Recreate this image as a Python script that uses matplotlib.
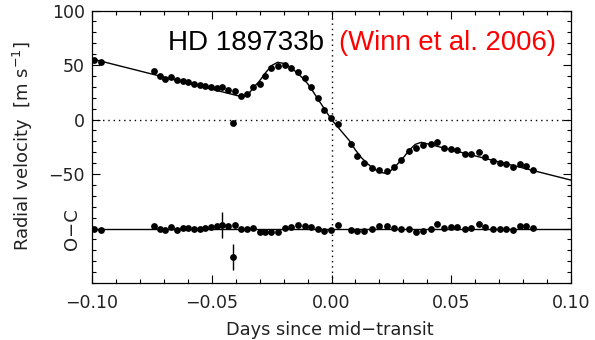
import matplotlib
matplotlib.use("Agg")
import matplotlib.pyplot as plt
import numpy as np
from matplotlib.ticker import MultipleLocator

# radial velocities of HD 189733 around transit (days from mid-transit, m/s)
t_obs = [-0.0992, -0.0961, -0.0741, -0.0717, -0.0694, -0.0669, -0.0646, -0.0621,
         -0.0599, -0.0574, -0.0549, -0.0527, -0.0502, -0.0478, -0.0457, -0.0432,
         -0.0404, -0.0377, -0.0353, -0.0328, -0.0300, -0.0276, -0.0251, -0.0223,
         -0.0195, -0.0168, -0.0140, -0.0112, -0.0087, -0.0056, -0.0031, -0.0001,
         0.0027, 0.0080, 0.0108, 0.0136, 0.0169, 0.0197, 0.0233, 0.0261,
         0.0292, 0.0322, 0.0354, 0.0382, 0.0414, 0.0442, 0.0470, 0.0498,
         0.0525, 0.0556, 0.0584, 0.0615, 0.0642, 0.0674, 0.0702, 0.0730,
         0.0758, 0.0786, 0.0813, 0.0841]
rv_obs = [54.7, 52.5, 44.6, 40.0, 37.5, 39.4, 36.0, 35.7,
          34.8, 32.9, 31.7, 30.8, 29.9, 29.3, 30.0, 27.1,
          26.2, 21.9, 23.1, 29.6, 32.6, 40.0, 47.5, 49.5,
          50.4, 47.6, 43.7, 37.8, 30.2, 19.5, 8.7, 1.1,
          -4.1, -22.8, -33.5, -40.3, -44.3, -46.4, -47.0, -43.4,
          -37.2, -29.0, -25.9, -23.4, -22.8, -21.0, -25.9, -27.4,
          -28.0, -31.7, -31.7, -30.2, -34.7, -37.8, -39.7, -41.2,
          -43.9, -41.2, -42.5, -46.4]
resid = [-0.6, -1.5, 2.5, 0.0, -1.5, 1.2, -1.0, 0.3, 0.6, -0.6, 0.0, 0.6, 1.2, 2.0, 3.5, 2.5, 3.0,
         0.0, 0.0, 0.3, -3.0, -3.0, -3.0, -3.5, 0.6, 1.2, 3.0, 2.5, 1.8, -0.6, -2.5, -1.5,
         3.0, -1.5, -2.5, -2.5, 0.0, 2.0, 2.5, 0.6, 0.0, -0.6, -3.5, -2.5, 0.0, 4.3, 0.6, 1.2,
         1.5, -0.6, 0.6, 4.3, 1.2, 0.0, -0.6, -0.6, -1.2, 2.5, 2.5, 0.6]

# the one discrepant point
t_out = -0.0411
rv_out = -3.5
resid_out = -26.0

# residuals that carry error bars
t_err = [-0.0457, -0.0411]
resid_err = [3.5, -26.0]
err = [12.0, 12.0]

# best-fit model (orbit + Rossiter-McLaughlin anomaly)
t_model = [-0.100, -0.0375, -0.035, -0.0325, -0.030, -0.0275, -0.025, -0.0225,
           -0.020, -0.0175, -0.015, -0.0125, -0.010, -0.0075, -0.005, -0.0025,
           0.0, 0.0025, 0.005, 0.0075, 0.010, 0.0125, 0.015, 0.0175,
           0.020, 0.0225, 0.025, 0.0275, 0.030, 0.0325, 0.035, 0.0375, 0.100]
rv_model = [55.6, 20.9, 22.5, 29.5, 35.5, 43.0, 49.5, 52.5,
            51.5, 48.5, 44.0, 39.0, 33.0, 25.0, 16.5, 8.2,
            0.0, -6.5, -13.0, -19.5, -28.0, -35.0, -40.5, -45.0,
            -48.3, -49.3, -46.5, -41.0, -35.0, -28.0, -22.8, -20.9, -55.6]

oc_offset = -100

fig = plt.figure(figsize=(5.95, 3.4), dpi=100)
ax = fig.add_axes([0.1546, 0.1676, 0.8051, 0.8015])

dotted = dict(color='black', lw=1.0, ls=(0, (1, 2.8)))
ax.axhline(0, **dotted)
ax.axvline(0, **dotted)

ax.plot(t_model, rv_model, color='black', lw=1.0)
ax.plot(t_obs, rv_obs, 'o', color='black', ms=4.9, mec='none')
ax.plot([t_out], [rv_out], 'o', color='black', ms=4.9, mec='none')

# O-C panel shifted down
ax.axhline(oc_offset, color='black', lw=1.0)
ax.plot(t_obs, np.array(resid) + oc_offset, 'o', color='black', ms=4.9, mec='none')
ax.plot([t_out], [resid_out + oc_offset], 'o', color='black', ms=4.9, mec='none')
ax.errorbar(t_err, np.array(resid_err) + oc_offset, yerr=err, fmt='none',
            ecolor='black', elinewidth=1.0, capsize=0)

ax.set_xlim(-0.1, 0.1)
ax.set_ylim(-150, 100)

ax.xaxis.set_minor_locator(MultipleLocator(0.01))
ax.yaxis.set_minor_locator(MultipleLocator(10))
ax.set_xticks([-0.1, -0.05, 0.0, 0.05, 0.1])
ax.set_xticklabels(['\u22120.10', '\u22120.05', '0.00', '0.05', '0.10'])
ax.set_yticks([-100, -50, 0, 50, 100])
ax.set_yticklabels(['', '\u221250', '0', '50', '100'])

ax.tick_params(which='both', direction='in', top=True, right=True,
               colors='black', labelcolor='#222222', labelsize=12.5)
ax.tick_params(which='major', length=6, width=0.8)
ax.tick_params(which='minor', length=3, width=0.8)
ax.tick_params(axis='x', pad=8)
ax.tick_params(axis='y', pad=5)
for s in ax.spines.values():
    s.set_linewidth(0.9)

fig.text(0.555, 0.03, 'Days since mid\u2212transit', ha='center', va='center',
         fontsize=12.8, color='#222222')
fig.text(0.039, 0.57, 'Radial velocity  [m s$^{-1}$]', rotation=90,
         ha='center', va='center', fontsize=13, color='#222222')
fig.text(0.121, 0.326, 'O\u2212C', rotation=90, ha='center', va='center',
         fontsize=13, color='#222222')

ax.text(-0.0683, 63.9, 'HD 189733b', fontsize=20, family='Liberation Sans',
        color='black', ha='left', va='baseline')
ax.text(0.0031, 63.9, '(Winn et al. 2006)', fontsize=19.8, family='Liberation Sans',
        color='red', ha='left', va='baseline')

fig.savefig('out.png', dpi=100)
